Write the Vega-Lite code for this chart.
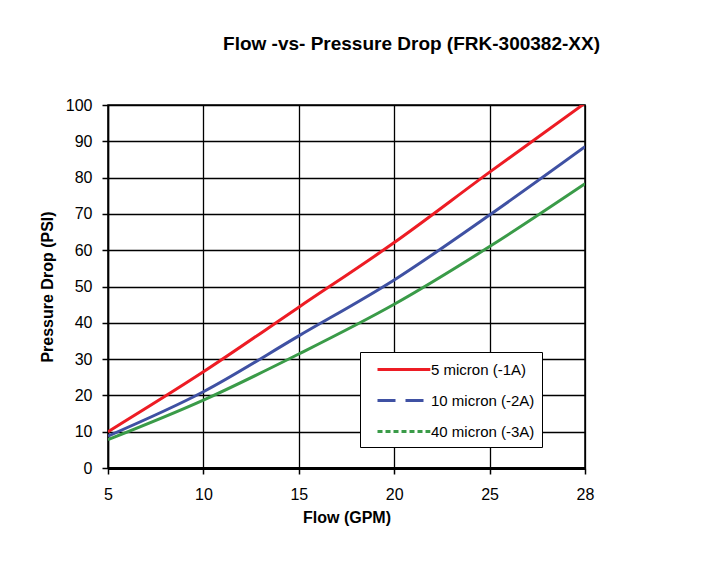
{
  "$schema": "https://vega.github.io/schema/vega-lite/v6.json",
  "autosize": {"type": "none"},
  "padding": {"left": 108, "top": 105, "right": 123, "bottom": 97},
  "width": 477,
  "height": 363,
  "background": "white",
  "title": {
    "text": "Flow -vs- Pressure Drop (FRK-300382-XX)",
    "font": "Liberation Sans",
    "fontSize": 19,
    "fontWeight": "bold",
    "color": "black",
    "anchor": "middle",
    "dx": 65,
    "offset": 43
  },
  "config": {
    "view": {"stroke": "black", "strokeWidth": 1.5},
    "axis": {
      "labelFont": "Liberation Sans",
      "titleFont": "Liberation Sans",
      "labelFontSize": 16,
      "titleFontSize": 16,
      "titleFontWeight": "bold",
      "labelColor": "black",
      "titleColor": "black",
      "domainColor": "black",
      "domainWidth": 1.5,
      "tickColor": "black",
      "tickWidth": 1.5,
      "tickSize": 6,
      "gridColor": "black",
      "gridWidth": 1.3,
      "gridOpacity": 1
    },
    "legend": {
      "labelFont": "Liberation Sans",
      "labelFontSize": 15,
      "labelColor": "black"
    }
  },
  "data": {
    "values": [
      {"flow": 5, "psi": 10.0, "series": "5 micron (-1A)"},
      {"flow": 10, "psi": 26.5, "series": "5 micron (-1A)"},
      {"flow": 15, "psi": 44.3, "series": "5 micron (-1A)"},
      {"flow": 20, "psi": 62.1, "series": "5 micron (-1A)"},
      {"flow": 25, "psi": 81.5, "series": "5 micron (-1A)"},
      {"flow": 28, "psi": 100.5, "series": "5 micron (-1A)"},
      {"flow": 5, "psi": 8.8, "series": "10 micron (-2A)"},
      {"flow": 10, "psi": 21.0, "series": "10 micron (-2A)"},
      {"flow": 15, "psi": 36.4, "series": "10 micron (-2A)"},
      {"flow": 20, "psi": 51.8, "series": "10 micron (-2A)"},
      {"flow": 25, "psi": 69.7, "series": "10 micron (-2A)"},
      {"flow": 28, "psi": 88.5, "series": "10 micron (-2A)"},
      {"flow": 5, "psi": 7.8, "series": "40 micron (-3A)"},
      {"flow": 10, "psi": 18.7, "series": "40 micron (-3A)"},
      {"flow": 15, "psi": 31.4, "series": "40 micron (-3A)"},
      {"flow": 20, "psi": 45.1, "series": "40 micron (-3A)"},
      {"flow": 25, "psi": 61.0, "series": "40 micron (-3A)"},
      {"flow": 28, "psi": 78.3, "series": "40 micron (-3A)"}
    ]
  },
  "mark": {"type": "line", "strokeWidth": 3, "interpolate": "monotone", "clip": true},
  "encoding": {
    "x": {
      "field": "flow",
      "type": "ordinal",
      "sort": [5, 10, 15, 20, 25, 28],
      "scale": {"type": "point", "padding": 0},
      "title": "Flow (GPM)",
      "axis": {"labelAngle": 0, "labelPadding": 12, "titlePadding": 7, "grid": true, "domainWidth": 3}
    },
    "y": {
      "field": "psi",
      "type": "quantitative",
      "scale": {"domain": [0, 100], "nice": false},
      "title": "Pressure Drop (PSI)",
      "axis": {"values": [0, 10, 20, 30, 40, 50, 60, 70, 80, 90, 100], "labelPadding": 10, "titlePadding": 10}
    },
    "color": {
      "field": "series",
      "type": "nominal",
      "sort": ["5 micron (-1A)", "10 micron (-2A)", "40 micron (-3A)"],
      "scale": {"range": ["#ed1c24", "#3f51a3", "#3a9b48"]},
      "legend": {
        "title": null,
        "orient": "none",
        "legendX": 252,
        "legendY": 247,
        "direction": "vertical",
        "symbolType": "M0,0H6.1",
        "symbolSize": 300,
        "symbolStrokeWidth": 3,
        "strokeColor": "black",
        "fillColor": "white",
        "padding": 7,
        "rowPadding": 12,
        "labelOffset": 43,
        "encode": {
          "symbols": {
            "update": {
              "strokeDash": {"signal": "datum.value === '10 micron (-2A)' ? [18, 10] : datum.value === '40 micron (-3A)' ? [5, 3] : [1, 0]"}
            }
          }
        }
      }
    }
  }
}
